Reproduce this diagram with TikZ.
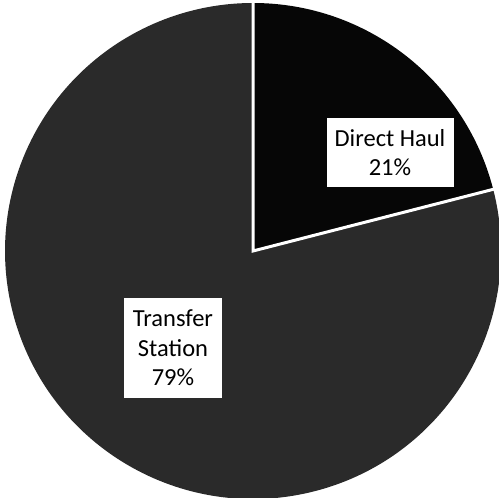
\documentclass[tikz,border=0pt]{standalone}
\usepackage{fontspec}
\setmainfont{Carlito}
\usetikzlibrary{calc}
\definecolor{tsgray}{HTML}{2A2A2A}
\definecolor{dhblack}{HTML}{060606}
\begin{document}
\begin{tikzpicture}[x=1pt,y=1pt,
  lbl/.style={fill=white,align=center,font=\fontsize{24.5}{29.5}\selectfont,inner sep=0pt},
  sep/.style={draw=white,line width=3pt}]
\useasboundingbox (0,0) rectangle (499,498);
\coordinate (c) at (253,247);
\fill[tsgray] (c) -- ++(14.4:248) arc[start angle=14.4,end angle=-270,radius=248] -- cycle;
\fill[dhblack] (c) -- ++(90:248) arc[start angle=90,end angle=14.4,radius=248] -- cycle;
\coordinate (top) at ($(c)+(90:250)$);
\coordinate (rgt) at ($(c)+(14.4:250)$);
\draw[sep] (top) -- (c) -- (rgt);
\node[lbl,minimum width=127,minimum height=69] (dh) at (390,345.5) {Direct Haul\\21\%};
\node[lbl,minimum width=98,minimum height=100] (ts) at (173,150) {Transfer\\Station\\79\%};
\end{tikzpicture}
\end{document}
